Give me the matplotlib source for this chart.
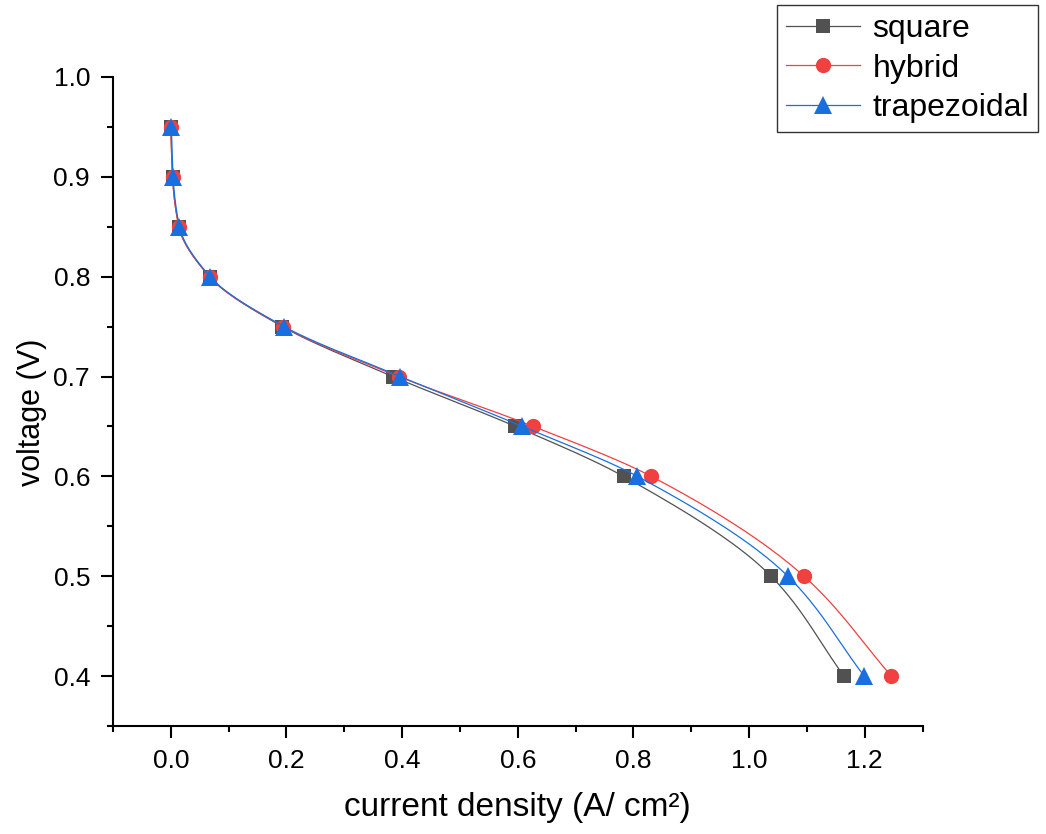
import numpy as np
import matplotlib.pyplot as plt

plt.rcParams["font.family"] = ["Liberation Sans", "DejaVu Sans"]

# polarization data
voltage = [0.95, 0.90, 0.85, 0.80, 0.75, 0.70, 0.65, 0.60, 0.50, 0.40]
square = [0.000, 0.003, 0.014, 0.067, 0.193, 0.384, 0.596, 0.783, 1.038, 1.164]
hybrid = [0.000, 0.003, 0.014, 0.067, 0.194, 0.394, 0.627, 0.831, 1.095, 1.246]
trapezoidal = [0.001, 0.004, 0.015, 0.068, 0.196, 0.397, 0.608, 0.807, 1.067, 1.199]

labels = ["square", "hybrid", "trapezoidal"]
colors = ["#515151", "#F14040", "#1A6FDF"]
markers = ["s", "o", "^"]
msizes = [10, 11, 13]


def smooth_line(xs, ys, n=40):
    # monotone cubic (pchip style) connection of x as function of y, for the line only
    y = np.array(ys[::-1], dtype=float)
    x = np.array(xs[::-1], dtype=float)
    h = np.diff(y)
    d = np.diff(x) / h
    m = np.zeros_like(x)
    for k in range(1, len(x) - 1):
        if d[k - 1] * d[k] > 0:
            w1 = 2 * h[k] + h[k - 1]
            w2 = h[k] + 2 * h[k - 1]
            m[k] = (w1 + w2) / (w1 / d[k - 1] + w2 / d[k])
    m[0] = d[0]
    m[-1] = d[-1]
    yy, xx = [], []
    for k in range(len(h)):
        t = np.linspace(0, 1, n)
        h00 = 2 * t**3 - 3 * t**2 + 1
        h10 = t**3 - 2 * t**2 + t
        h01 = -2 * t**3 + 3 * t**2
        h11 = t**3 - t**2
        xx.extend(h00 * x[k] + h10 * h[k] * m[k] + h01 * x[k + 1] + h11 * h[k] * m[k + 1])
        yy.extend(y[k] + t * h[k])
    return np.array(xx), np.array(yy)


fig = plt.figure(figsize=(10.46, 8.34), dpi=100)
ax = fig.add_axes([0.108, 0.1295, 0.774, 0.7782])

for xs, lab, c, mk, ms in zip([square, hybrid, trapezoidal], labels, colors, markers, msizes):
    sx, sy = smooth_line(xs, voltage)
    ax.plot(sx, sy, color=c, linewidth=0.9)
    ax.plot(xs, voltage, linestyle="none", marker=mk, markersize=ms, color=c,
            markeredgewidth=0, clip_on=False)
    ax.plot([], [], color=c, linewidth=0.9, marker=mk, markersize=ms,
            markeredgewidth=0, label=lab)

ax.set_xlim(-0.1, 1.3)
ax.set_ylim(0.35, 1.0)
ax.set_xticks([0.0, 0.2, 0.4, 0.6, 0.8, 1.0, 1.2])
ax.set_xticks(np.arange(-0.1, 1.31, 0.2), minor=True)
ax.set_yticks([0.4, 0.5, 0.6, 0.7, 0.8, 0.9, 1.0])
ax.set_yticks(np.arange(0.35, 1.0, 0.1), minor=True)
ax.xaxis.set_major_formatter(plt.FormatStrFormatter("%.1f"))
ax.yaxis.set_major_formatter(plt.FormatStrFormatter("%.1f"))

for s in ["top", "right"]:
    ax.spines[s].set_visible(False)
for s in ["left", "bottom"]:
    ax.spines[s].set_linewidth(1.5)

ax.tick_params(which="major", length=8.5, width=1.5, labelsize=19, pad=8)
ax.tick_params(which="minor", length=4.5, width=1.5)

ax.set_xlabel("current density (A/ cm²)", fontsize=24, labelpad=14)
ax.set_ylabel("voltage (V)", fontsize=22)
ax.yaxis.set_label_coords(-0.0815, 0.484)

leg = fig.legend(loc="upper right", bbox_to_anchor=(1038 / 1046, 1 - 5 / 834),
                 fontsize=23, frameon=True, fancybox=False, handlelength=2.3,
                 handletextpad=0.4, borderpad=0.28, labelspacing=0.3,
                 borderaxespad=0)
leg.get_frame().set_edgecolor("black")
leg.get_frame().set_linewidth(1.0)

plt.savefig("out.png", dpi=100)
